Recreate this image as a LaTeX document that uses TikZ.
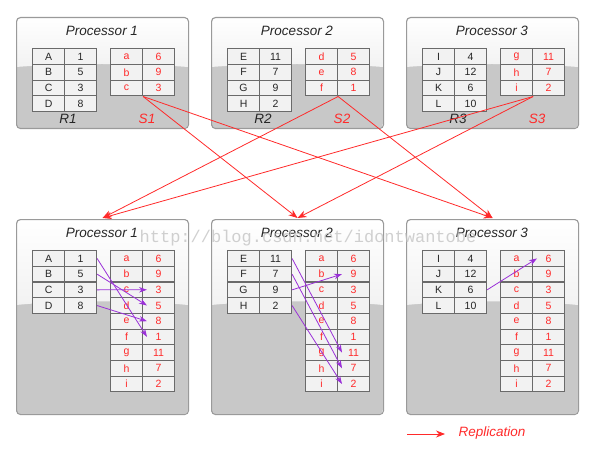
\documentclass[tikz,border=0pt]{standalone}
\usepackage{fontspec}
\setmainfont{Liberation Sans}
\newfontfamily\wmfont{Liberation Mono}
\usetikzlibrary{arrows.meta,calc}
\definecolor{rep}{HTML}{FF2A2A}
\definecolor{pur}{HTML}{9A30D8}
\definecolor{boxborder}{HTML}{9A9A9A}
\definecolor{boxgray}{HTML}{C8C8C8}
\definecolor{cellfill}{HTML}{F2F2F2}
\definecolor{cellborder}{HTML}{6A6A6A}
\definecolor{wmgray}{HTML}{C4C4C4}
\begin{document}
\begin{tikzpicture}[x=1pt,y=-1pt,
  procbox/.style={draw=boxborder, line width=1.1pt, rounded corners=4pt, inner sep=0pt, anchor=north west},
  cell/.style={draw=cellborder, line width=1.1pt, fill=cellfill, minimum width=32pt, minimum height=15.8pt, inner sep=0pt, anchor=north west, font=\fontsize{10.5}{11}\selectfont, text=black!85},
  redcell/.style={cell, text=rep},
  ptitle/.style={font=\fontsize{13.5}{14}\selectfont\itshape, text=black!85},
  rlabel/.style={font=\fontsize{13.5}{14}\selectfont\itshape, text=black!85},
  slabel/.style={font=\fontsize{13.5}{14}\selectfont\itshape, text=rep},
  reparrow/.style={draw=rep, line width=0.8pt, -{Stealth[length=9pt,width=7pt]}},
  purarrow/.style={draw=pur, line width=0.8pt, -{Stealth[length=8pt,width=5.5pt]}},
  watermark/.style={font=\wmfont\fontsize{17}{17}\selectfont, text=wmgray, opacity=0.8}
]
\useasboundingbox (0,0) rectangle (596,457);

% ---------- top processors ----------
\foreach \i/\x/\rl/\sl in {1/16/{A/1,B/5,C/3,D/8}/{a/6,b/9,c/3},
                          2/211/{E/11,F/7,G/9,H/2}/{d/5,e/8,f/1},
                          3/406/{I/4,J/12,K/6,L/10}/{g/11,h/7,i/2}}{
  \begin{scope}
    \clip[rounded corners=4pt] (\x,17) rectangle (\x+172,128);
    \fill[boxgray] (\x,17) rectangle (\x+172,128);
    \shade[top color=white, bottom color=cellfill] (\x,17) -- (\x+172,17) -- (\x+172,67)
      .. controls (\x+120,63) and (\x+52,63) .. (\x,67) -- cycle;
  \end{scope}
  \node[procbox, minimum width=172pt, minimum height=111pt] (T\i) at (\x,17) {};
  \node[ptitle] (T\i-title) at (\x+86,31) {Processor \i};
  \foreach \a/\b [count=\r] in \rl {
    \node[cell] (TR\i-\r-1) at (\x+16,48+15.8*\r-15.8) {\a};
    \node[cell] (TR\i-\r-2) at (\x+48,48+15.8*\r-15.8) {\b};
  }
  \foreach \a/\b [count=\r] in \sl {
    \node[redcell] (TS\i-\r-1) at (\x+94,48+15.8*\r-15.8) {\a};
    \node[redcell] (TS\i-\r-2) at (\x+126,48+15.8*\r-15.8) {\b};
  }
  \node[rlabel] (T\i-R) at (\x+52,119) {R\i};
  \node[slabel] (T\i-S) at (\x+131,119) {S\i};
}

% ---------- bottom processors ----------
\foreach \i/\x/\rl in {1/16/{A/1,B/5,C/3,D/8},
                      2/211/{E/11,F/7,G/9,H/2},
                      3/406/{I/4,J/12,K/6,L/10}}{
  \begin{scope}
    \clip[rounded corners=4pt] (\x,219) rectangle (\x+172,414);
    \fill[boxgray] (\x,219) rectangle (\x+172,414);
    \shade[top color=white, bottom color=cellfill] (\x,219) -- (\x+172,219) -- (\x+172,305)
      .. controls (\x+120,300) and (\x+52,300) .. (\x,305) -- cycle;
  \end{scope}
  \node[procbox, minimum width=172pt, minimum height=195pt] (B\i) at (\x,219) {};
  \node[ptitle] (B\i-title) at (\x+86,233) {Processor \i};
  \foreach \a/\b [count=\r] in \rl {
    \node[cell] (BL\i-\r-1) at (\x+16,250+15.7*\r-15.7) {\a};
    \node[cell] (BL\i-\r-2) at (\x+48,250+15.7*\r-15.7) {\b};
  }
  \foreach \a/\b [count=\r] in {a/6,b/9,c/3,d/5,e/8,f/1,g/11,h/7,i/2} {
    \node[redcell, minimum height=15.7pt] (BR\i-\r-1) at (\x+94,250+15.7*\r-15.7) {\a};
    \node[redcell, minimum height=15.7pt] (BR\i-\r-2) at (\x+126,250+15.7*\r-15.7) {\b};
  }
}

% ---------- watermark ----------
\node[watermark] (wm) at (308,238) {http://blog.csdn.net/idontwantobe};

% ---------- replication arrows ----------
\draw[reparrow] (TS1-3-1.south east) -- ($(B2.north)+(0,-1)$);
\draw[reparrow] (TS1-3-1.south east) -- ($(B3.north)+(0,-1)$);
\draw[reparrow] (TS2-3-1.south east) -- ($(B1.north)+(0,-1)$);
\draw[reparrow] (TS2-3-1.south east) -- ($(B3.north)+(0,-1)$);
\draw[reparrow] (TS3-3-1.south east) -- ($(B1.north)+(0,-1)$);
\draw[reparrow] (TS3-3-1.south east) -- ($(B2.north)+(0,-1)$);

% ---------- local redistribution arrows ----------
\draw[purarrow] (BL1-1-2.east) -- ($(BR1-6-2.west)+(5,0)$);
\draw[purarrow] (BL1-2-2.east) -- ($(BR1-4-2.west)+(5,0)$);
\draw[purarrow] (BL1-3-2.east) -- ($(BR1-3-2.west)+(5,0)$);
\draw[purarrow] (BL1-4-2.east) -- ($(BR1-5-2.west)+(5,0)$);

\draw[purarrow] (BL2-1-2.east) -- ($(BR2-7-2.west)+(5,0)$);
\draw[purarrow] (BL2-2-2.east) -- ($(BR2-8-2.west)+(5,0)$);
\draw[purarrow] (BL2-3-2.east) -- ($(BR2-2-2.west)+(5,0)$);
\draw[purarrow] (BL2-4-2.east) -- ($(BR2-9-2.west)+(5,0)$);

\draw[purarrow] (BL3-3-2.east) -- ($(BR3-1-2.west)+(5,0)$);

% ---------- legend ----------
\coordinate (leg-a) at (407,434);
\coordinate (leg-b) at (445,434);
\draw[reparrow] (leg-a) -- (leg-b);
\node[slabel, anchor=west] (leg-text) at (455,433) {Replication};
\end{tikzpicture}
\end{document}
